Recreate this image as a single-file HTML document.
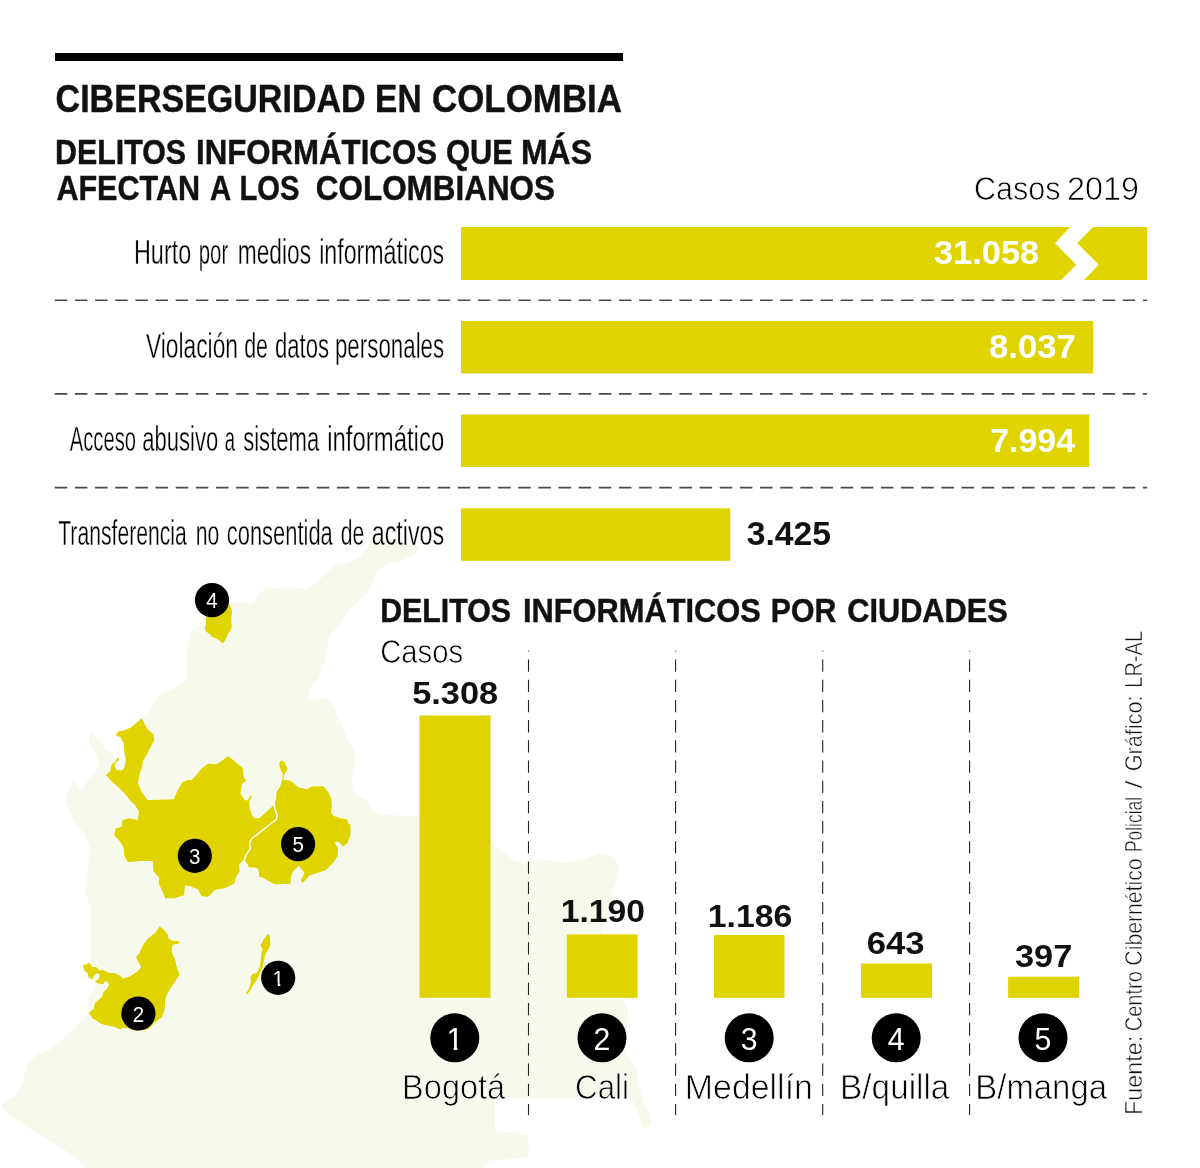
<!DOCTYPE html>
<html lang="es">
<head>
<meta charset="utf-8">
<title>Ciberseguridad en Colombia</title>
<style>
html,body{margin:0;padding:0;background:#fff;}
body{width:1200px;height:1168px;overflow:hidden;}
svg{display:block;font-family:"Liberation Sans", sans-serif;}
text{white-space:pre;}
.lt{stroke:#fff;stroke-width:0.75px;paint-order:fill stroke;}
.dg{stroke:#000;stroke-width:0.5px;paint-order:fill stroke;}
.dg2{stroke:#000;stroke-width:0.35px;paint-order:fill stroke;}
.lt2{stroke:#fff;stroke-width:0.5px;paint-order:fill stroke;}
.cn{stroke:#fff;stroke-width:0.35px;paint-order:fill stroke;}
</style>
</head>
<body>
<svg width="1200" height="1168" viewBox="0 0 1200 1168">
<polygon points="307.5,588.8 315,582.5 325,575 333,566.7 346.7,562.7 360,557.3 365.3,550.7 369.3,542.7 373.3,538.7 382.7,537.3 400,540 410,544 421.3,546.7 413.3,554.7 400,561.3 386.7,564 377.3,570.7 373.3,580 367.5,593.8 357.5,602.5 350,610 344,618 340,624.7 333,632 328.3,639 326.5,650 325.2,660 321,672 317.5,680 310,690 307.5,700 315,700 322.5,697.5 330,700 336.7,713.3 341.7,726.7 348.3,740 355,750 355,766.7 351.7,780 355,793.3 366.7,800 373.3,810 380,815 418.3,816 440,823 470,834 490.7,843.3 500,850 513.3,860 523.3,865 530,861.7 546.7,860 566.7,863.3 586.7,858.3 600,853.3 613.3,856.7 620,866.7 616.7,880 611.7,893.3 613.3,906.7 609,918 602,928 604,950 610,975 618,990 623.3,999.7 628.3,1011.3 626.7,1028 623.3,1044.7 626.7,1054.7 636.7,1068 638.3,1084.7 643.3,1101.3 650,1114.7 651.7,1124.7 643.3,1129.7 638.3,1114.7 633.3,1101.3 628.3,1098 495,1098 495,1131.3 513.3,1132.3 526.7,1134.7 530,1148 526.7,1158 513.3,1158.7 490,1160.7 483.3,1168 86.7,1168 76.7,1158 56.7,1144.7 33.3,1131.3 13.3,1118 1.7,1108 3.3,1101.3 16.7,1094.7 23.3,1081.3 26.7,1064.7 36.7,1054.7 50,1049.7 63.3,1039.7 75,1028 84.8,1016.9 88.6,1013 88,1000 95,985 85,970 88.6,965.5 91.2,955.2 89.9,939.8 91.2,919.3 89.9,903.8 84.8,893.6 87.3,878.2 88.6,862.7 89.9,847.3 84.8,834.5 77.1,824.2 69.4,811.4 65.5,798.5 64.1,806.1 68,792 73.4,779.4 79.5,790.7 82.6,788.6 87.7,780.4 93.9,772.2 98.5,766 98,759.9 94.9,751.6 89.8,743.4 88.8,735.2 90.8,731.1 96,736.2 101.1,743.4 106.2,749.6 111.4,751.6 113.4,755.8 115.5,760.9 117.5,757.8 119.1,758.3 118.6,760.9 116,761.9 114.5,766 116,769.6 121.6,770.7 124.2,768.1 125.8,759.9 124.2,751.6 123.7,743.4 120.6,737.3 115.5,735.2 118,731.6 123.7,730.6 130.9,727.5 141.7,718.3 145.3,715.7 149.4,711.6 152.5,704.4 158.6,696.2 167.9,691 175,687.5 185,682.5 187.5,670 186.3,657.5 188.5,643.2 190,634 195.4,627 203.1,623.2 206,612 214,603 229.3,603.1 241.7,602.4 249.4,603.9 255,602.5 258.8,593.8 265,588.8 277.5,587.5 292.5,587.5" fill="#f6f9ec"/>
<polygon points="141.7,718.3 144.2,722.9 147.3,729.0 153.5,734.2 154.5,740.3 150.4,747.5 146.3,755.8 143.2,760.9 142.2,767.1 139.6,774.2 138.1,782.5 141.2,790.7 147.3,799.9 173.9,799.3 177.3,790.8 182.5,782.2 188.5,779.6 191.0,780.5 196.2,775.3 201.3,768.5 208.2,763.4 216.7,764.2 225.3,758.2 227.8,755.7 232.1,759.1 237.3,763.4 242.4,767.6 243.0,769.5 243.7,777.0 246.4,780.4 242.3,783.8 240.3,793.4 245.1,800.3 247.8,800.3 250.5,795.5 251.9,796.8 249.2,801.6 249.9,808.5 251.9,815.3 254.0,818.1 259.5,818.1 267.0,811.2 273.8,805.1 276.6,811.2 277.9,816.7 277.3,820.1 277.8,820.3 272.3,824.4 265.4,829.8 258.59999999999997,835.3 253.1,839.4 251.1,843.5 251.7,849.6999999999999 249.0,853.0999999999999 245.6,860.0 245.0,859.2 242.4,861.0 239.0,864.4 239.8,871.2 235.5,878.1 234.7,883.2 230.4,885.8 223.6,888.4 215.0,890.1 209.9,895.2 206.4,896.9 201.3,896.1 197.9,889.2 192.7,887.5 189.3,885.8 185.0,885.8 184.2,895.2 173.9,898.6 165.3,898.6 161.1,888.4 158.5,883.2 159.3,878.1 153.4,871.2 152.5,861.0 141.4,861.0 127.7,862.3 124.2,855.8 123.4,847.3 119.1,840.4 114.0,835.3 115.7,828.4 121.7,826.7 122.5,819.9 129.4,818.2 137.9,819.9 138.8,811.3 134.5,804.5 130.9,801.5 124.7,793.8 117.5,786.6 111.4,781.4 105.7,775.1 110.3,771.2 111.4,765.0 115.5,760.9 117.5,757.8 119.1,758.3 118.6,760.9 116.0,761.9 114.5,766.0 116.0,769.6 121.6,770.7 124.2,768.1 125.8,759.9 124.2,751.6 123.7,743.4 120.6,737.3 115.5,735.2 118.0,731.6 123.7,730.6 130.9,727.5" fill="#dfd400" stroke="#fff" stroke-width="1.6" stroke-linejoin="round" paint-order="stroke"/>
<polygon points="281.4,760.3 284.8,762.6 287.5,768.8 285.5,772.9 284.1,774.9 283.4,779.7 290.3,780.4 294.4,783.8 298.5,787.3 306.7,789.3 311.5,786.6 323.2,785.9 325.9,789.3 328.6,792.7 331.4,798.9 332.1,807.1 330.7,812.6 334.1,816.0 339.6,818.1 347.1,819.2 348.5,823.6 350.5,824.9 350.5,834.5 347.8,842.7 343.0,846.8 339.6,842.7 336.8,841.4 334.8,842.7 338.2,848.2 337.5,856.4 332.7,863.3 325.9,870.1 317.7,872.9 309.5,875.6 302.6,883.2 300.5,880.4 304.7,872.9 298.5,866.0 293.0,871.5 291.0,877.0 290.3,884.5 284.8,883.8 275.2,884.5 268.4,881.1 261.5,877.0 259.5,877.7 258.1,868.8 254.7,867.4 249.2,867.4 245.1,860.5 244.4,859.2 247.8,852.3 250.5,848.9 249.9,842.7 251.9,838.6 257.4,834.5 264.2,829.0 271.1,823.6 276.6,819.5 277.3,814.7 275.2,809.9 274.5,804.4 275.9,798.9 276.6,792.1 280.0,786.6 282.1,779.7 282.7,774.2 280.7,770.1 279.3,766.0 279.6,761.9" fill="#dfd400" stroke="#fff" stroke-width="1.6" stroke-linejoin="round" paint-order="stroke"/>
<polygon points="159.6,926.1 164.6,930.6 167.9,934.5 168.5,938.4 172.4,940.6 179.1,941.2 179.6,943.4 173.5,944.5 171.8,947.3 172.4,954.0 175.2,959.5 176.8,967.3 179.6,974.5 175.7,980.7 170.2,988.5 166.8,995.1 165.2,1000.7 164.6,1009.6 161.8,1017.4 155.7,1021.8 147.9,1029.6 136.8,1030.7 123.4,1027.4 120.1,1029.6 114.5,1026.9 107.8,1025.7 101.2,1024.1 96.7,1020.7 92.3,1018.5 90.0,1014.6 88.4,1012.9 91.1,1010.7 93.9,1008.5 95.0,1002.9 98.9,999.6 102.3,996.2 103.4,991.8 107.3,988.5 109.0,984.0 106.7,981.2 104.5,981.8 103.4,984.6 96.7,982.9 95.0,981.2 98.9,978.4 99.5,975.1 96.7,972.9 93.9,976.2 92.3,979.6 88.4,977.3 87.8,973.4 84.5,970.6 83.1,966.2 83.9,964.5 86.7,964.5 88.4,962.6 91.1,964.5 91.7,966.8 96.7,967.3 99.5,970.6 103.4,970.1 109.0,972.9 114.5,972.9 119.0,975.1 123.4,978.4 130.1,976.2 136.8,971.8 141.2,967.3 139.0,962.9 136.8,959.5 136.2,956.7 139.6,952.8 142.3,946.2 146.8,939.5 152.4,935.0 156.3,931.7" fill="#dfd400" stroke="#fff" stroke-width="1.6" stroke-linejoin="round" paint-order="stroke"/>
<polygon points="268.2,934.3 269.7,935.4 270.1,940.0 270.5,943.9 269.3,947.7 267.4,950.8 265.5,953.9 264.7,957.0 264.3,960.1 263.5,963.2 263.1,966.2 261.2,970.1 259.3,975.5 256.2,980.9 253.1,985.5 250.4,990.1 248.1,993.6 246.2,994.6 245.8,993.2 248.5,989.4 250.0,985.5 250.8,980.9 250.4,977.0 252.0,974.3 254.7,973.6 257.0,972.4 259.3,967.8 260.4,963.2 260.8,958.5 261.2,953.9 262.4,949.3 260.8,946.2 260.4,944.3 262.4,942.4 263.1,940.0 265.5,937.0 267.0,934.6" fill="#dfd400" stroke="#fff" stroke-width="1.6" stroke-linejoin="round" paint-order="stroke"/>
<polygon points="223.2,599.3 229.3,604.7 231.3,608.5 232.0,613.2 231.3,617.8 231.6,623.9 231.6,627.8 230.1,630.9 227.8,634.0 226.2,638.6 223.9,642.4 222.0,643.6 220.1,640.9 216.2,638.6 211.6,637.1 210.1,634.7 206.2,631.7 204.7,628.6 205.8,623.9 205.8,617.8 207.0,616.2 210.8,608.5" fill="#dfd400" stroke="#fff" stroke-width="1.6" stroke-linejoin="round" paint-order="stroke"/>
<polyline points="274.5,804.4 275.2,809.9 277.3,814.7 276.6,819.5 271.1,823.6 264.2,829.0 257.4,834.5 251.9,838.6 249.9,842.7 250.5,848.9 247.8,852.3 244.4,859.2" fill="none" stroke="#fff" stroke-width="1.1"/>
<rect x="55" y="53" width="568" height="8" fill="#000"/>
<text y="111.7" font-size="38.6" font-weight="bold" fill="#111" stroke="#111" stroke-width="0.45"><tspan x="55.6" textLength="310.01" lengthAdjust="spacingAndGlyphs">CIBERSEGURIDAD</tspan> <tspan x="375.09" textLength="46.45" lengthAdjust="spacingAndGlyphs">EN</tspan> <tspan x="431.99" textLength="190.01" lengthAdjust="spacingAndGlyphs">COLOMBIA</tspan></text>
<text y="164" font-size="35.2" font-weight="bold" fill="#111" stroke="#111" stroke-width="0.45"><tspan x="54.97" textLength="131.06" lengthAdjust="spacingAndGlyphs">DELITOS</tspan> <tspan x="195.98" textLength="241.03" lengthAdjust="spacingAndGlyphs">INFORMÁTICOS</tspan> <tspan x="445.98" textLength="67.04" lengthAdjust="spacingAndGlyphs">QUE</tspan> <tspan x="520.94" textLength="71.1" lengthAdjust="spacingAndGlyphs">MÁS</tspan></text>
<text y="200" font-size="35.2" font-weight="bold" fill="#111" stroke="#111" stroke-width="0.45"><tspan x="56.4" textLength="143.64" lengthAdjust="spacingAndGlyphs">AFECTAN</tspan> <tspan x="210.0" textLength="20.05" lengthAdjust="spacingAndGlyphs">A</tspan> <tspan x="239.51" textLength="60.13" lengthAdjust="spacingAndGlyphs">LOS</tspan> <tspan x="315.79" textLength="239.22" lengthAdjust="spacingAndGlyphs">COLOMBIANOS</tspan></text>
<text y="200" font-size="33.7" fill="#000" class="lt"><tspan x="973.93" textLength="86.53" lengthAdjust="spacingAndGlyphs">Casos</tspan> <tspan x="1067.11" textLength="71.98" lengthAdjust="spacingAndGlyphs">2019</tspan></text>
<polygon points="461,227 1070,227 1055,243.2 1076.3,264.7 1061,280 461,280" fill="#dfd400"/>
<polygon points="1093,227 1147,227 1147,280 1084,280 1098.8,264.7 1077.2,243.2" fill="#dfd400"/>
<rect x="461" y="321" width="632" height="52.5" fill="#dfd400"/>
<rect x="461" y="414.5" width="628.3" height="52.5" fill="#dfd400"/>
<rect x="461" y="508.3" width="269.3" height="52.5" fill="#dfd400"/>
<line x1="54.8" y1="300.2" x2="1147" y2="300.2" stroke="#4a4a4a" stroke-width="1.6" stroke-dasharray="12.5 7.65"/>
<line x1="54.8" y1="393.9" x2="1147" y2="393.9" stroke="#4a4a4a" stroke-width="1.6" stroke-dasharray="12.5 7.65"/>
<line x1="54.8" y1="487.6" x2="1147" y2="487.6" stroke="#4a4a4a" stroke-width="1.6" stroke-dasharray="12.5 7.65"/>
<text y="263.9" font-size="35" fill="#000" class="cn"><tspan x="133.94" textLength="57.29" lengthAdjust="spacingAndGlyphs">Hurto</tspan> <tspan x="198.75" textLength="29.46" lengthAdjust="spacingAndGlyphs">por</tspan> <tspan x="237.76" textLength="73.27" lengthAdjust="spacingAndGlyphs">medios</tspan> <tspan x="319.17" textLength="125.04" lengthAdjust="spacingAndGlyphs">informáticos</tspan></text>
<text y="357.7" font-size="35" fill="#000" class="cn"><tspan x="145.98" textLength="92.06" lengthAdjust="spacingAndGlyphs">Violación</tspan> <tspan x="244.19" textLength="23.85" lengthAdjust="spacingAndGlyphs">de</tspan> <tspan x="274.96" textLength="54.08" lengthAdjust="spacingAndGlyphs">datos</tspan> <tspan x="334.96" textLength="109.25" lengthAdjust="spacingAndGlyphs">personales</tspan></text>
<text y="451.4" font-size="35" fill="#000" class="cn"><tspan x="69.8" textLength="66.21" lengthAdjust="spacingAndGlyphs">Acceso</tspan> <tspan x="142.17" textLength="76.07" lengthAdjust="spacingAndGlyphs">abusivo</tspan> <tspan x="224.74" textLength="10.26" lengthAdjust="spacingAndGlyphs">a</tspan> <tspan x="243.19" textLength="76.01" lengthAdjust="spacingAndGlyphs">sistema</tspan> <tspan x="327.17" textLength="117.04" lengthAdjust="spacingAndGlyphs">informático</tspan></text>
<text y="545.2" font-size="35" fill="#000" class="cn"><tspan x="58.2" textLength="128.6" lengthAdjust="spacingAndGlyphs">Transferencia</tspan> <tspan x="195.68" textLength="23.56" lengthAdjust="spacingAndGlyphs">no</tspan> <tspan x="226.79" textLength="106.01" lengthAdjust="spacingAndGlyphs">consentida</tspan> <tspan x="340.75" textLength="23.5" lengthAdjust="spacingAndGlyphs">de</tspan> <tspan x="371.78" textLength="72.43" lengthAdjust="spacingAndGlyphs">activos</tspan></text>
<text y="263.7" font-size="32.4" font-weight="bold" fill="#fff"><tspan x="933.98" textLength="105.25" lengthAdjust="spacingAndGlyphs">31.058</tspan></text>
<text y="357.7" font-size="32.4" font-weight="bold" fill="#fff"><tspan x="988.94" textLength="86.91" lengthAdjust="spacingAndGlyphs">8.037</tspan></text>
<text y="451.5" font-size="32.4" font-weight="bold" fill="#fff"><tspan x="990.17" textLength="84.83" lengthAdjust="spacingAndGlyphs">7.994</tspan></text>
<text y="545" font-size="32.4" font-weight="bold" fill="#111"><tspan x="746.78" textLength="84.23" lengthAdjust="spacingAndGlyphs">3.425</tspan></text>
<text y="621.8" font-size="34" font-weight="bold" fill="#111" stroke="#111" stroke-width="0.45"><tspan x="380.18" textLength="130.83" lengthAdjust="spacingAndGlyphs">DELITOS</tspan> <tspan x="522.98" textLength="237.83" lengthAdjust="spacingAndGlyphs">INFORMÁTICOS</tspan> <tspan x="770.76" textLength="65.45" lengthAdjust="spacingAndGlyphs">POR</tspan> <tspan x="847.19" textLength="160.61" lengthAdjust="spacingAndGlyphs">CIUDADES</tspan></text>
<text y="662.8" font-size="34" fill="#000" class="lt"><tspan x="380.15" textLength="82.88" lengthAdjust="spacingAndGlyphs">Casos</tspan></text>
<line x1="528.5" y1="650.8" x2="528.5" y2="1115" stroke="#222" stroke-width="1.1" stroke-dasharray="12.3 7.9" stroke-dashoffset="11.5"/>
<line x1="675.6" y1="650.8" x2="675.6" y2="1115" stroke="#222" stroke-width="1.1" stroke-dasharray="12.3 7.9" stroke-dashoffset="11.5"/>
<line x1="822.7" y1="650.8" x2="822.7" y2="1115" stroke="#222" stroke-width="1.1" stroke-dasharray="12.3 7.9" stroke-dashoffset="11.5"/>
<line x1="969.6" y1="650.8" x2="969.6" y2="1115" stroke="#222" stroke-width="1.1" stroke-dasharray="12.3 7.9" stroke-dashoffset="11.5"/>
<rect x="419.5" y="715.5" width="71" height="282.3" fill="#dfd400"/>
<rect x="566.9" y="934.4" width="70.6" height="63.4" fill="#dfd400"/>
<rect x="714" y="934.9" width="70.5" height="62.9" fill="#dfd400"/>
<rect x="861" y="963.5" width="71" height="34.3" fill="#dfd400"/>
<rect x="1008.1" y="976.7" width="71" height="21.1" fill="#dfd400"/>
<text y="704" font-size="31.6" font-weight="bold" fill="#111"><tspan x="412.17" textLength="86.07" lengthAdjust="spacingAndGlyphs">5.308</tspan></text>
<text y="922.4" font-size="31.6" font-weight="bold" fill="#111"><tspan x="560.71" textLength="84.33" lengthAdjust="spacingAndGlyphs">1.190</tspan></text>
<text y="926.5" font-size="31.6" font-weight="bold" fill="#111"><tspan x="707.71" textLength="84.55" lengthAdjust="spacingAndGlyphs">1.186</tspan></text>
<text y="953.5" font-size="31.6" font-weight="bold" fill="#111"><tspan x="866.74" textLength="57.93" lengthAdjust="spacingAndGlyphs">643</tspan></text>
<text y="966.7" font-size="31.6" font-weight="bold" fill="#111"><tspan x="1014.97" textLength="57.27" lengthAdjust="spacingAndGlyphs">397</tspan></text>
<circle cx="454.8" cy="1037.8" r="24.5" fill="#000"/>
<text x="454.8" y="1050" font-size="31.6" text-anchor="middle" fill="#fff" textLength="16.8" lengthAdjust="spacingAndGlyphs">1</text>
<rect x="447.5" y="1046.5" width="6.2" height="4.5" fill="#000"/><rect x="457.3" y="1046.5" width="6.2" height="4.5" fill="#000"/>
<circle cx="602" cy="1037.8" r="24.5" fill="#000"/>
<text x="602" y="1050" font-size="31.6" text-anchor="middle" fill="#fff" textLength="16.8" lengthAdjust="spacingAndGlyphs">2</text>
<circle cx="749.2" cy="1037.8" r="24.5" fill="#000"/>
<text x="749.2" y="1050" font-size="31.6" text-anchor="middle" fill="#fff" textLength="16.8" lengthAdjust="spacingAndGlyphs">3</text>
<circle cx="896.2" cy="1037.8" r="24.5" fill="#000"/>
<text x="896.2" y="1050" font-size="31.6" text-anchor="middle" fill="#fff" textLength="16.8" lengthAdjust="spacingAndGlyphs">4</text>
<circle cx="1043" cy="1037.8" r="24.5" fill="#000"/>
<text x="1043" y="1050" font-size="31.6" text-anchor="middle" fill="#fff" textLength="16.8" lengthAdjust="spacingAndGlyphs">5</text>
<text y="1099.4" font-size="34.4" fill="#000" class="lt"><tspan x="402.12" textLength="103.09" lengthAdjust="spacingAndGlyphs">Bogotá</tspan></text>
<text y="1099.4" font-size="34.4" fill="#000" class="lt"><tspan x="575.03" textLength="54.02" lengthAdjust="spacingAndGlyphs">Cali</tspan></text>
<text y="1099.4" font-size="34.4" fill="#000" class="lt"><tspan x="684.87" textLength="128.05" lengthAdjust="spacingAndGlyphs">Medellín</tspan></text>
<text y="1099.4" font-size="34.4" fill="#000" class="lt"><tspan x="840.11" textLength="109.3" lengthAdjust="spacingAndGlyphs">B/quilla</tspan></text>
<text y="1099.4" font-size="34.4" fill="#000" class="lt"><tspan x="975.34" textLength="131.66" lengthAdjust="spacingAndGlyphs">B/manga</tspan></text>
<text transform="translate(1142.2,1113) rotate(-90)" y="0" font-size="24.1" fill="#111" class="lt2"><tspan x="-2.12" textLength="79.44" lengthAdjust="spacingAndGlyphs">Fuente:</tspan> <tspan x="81.72" textLength="60.12" lengthAdjust="spacingAndGlyphs">Centro</tspan> <tspan x="147.37" textLength="107.28" lengthAdjust="spacingAndGlyphs">Cibernético</tspan> <tspan x="260.91" textLength="55.19" lengthAdjust="spacingAndGlyphs">Policial</tspan> <tspan x="324.5" textLength="8.0" lengthAdjust="spacingAndGlyphs">/</tspan> <tspan x="341.7" textLength="75.81" lengthAdjust="spacingAndGlyphs">Gráfico:</tspan> <tspan x="425.3" textLength="56.75" lengthAdjust="spacingAndGlyphs">LR-AL</tspan></text>
<circle cx="212" cy="600.1" r="17.1" fill="#000"/>
<text x="212" y="608.2" font-size="21.8" text-anchor="middle" fill="#fff" textLength="11.4" lengthAdjust="spacingAndGlyphs">4</text>
<circle cx="194.8" cy="855.8" r="17.1" fill="#000"/>
<text x="194.8" y="863.9" font-size="21.8" text-anchor="middle" fill="#fff" textLength="11.4" lengthAdjust="spacingAndGlyphs">3</text>
<circle cx="298.1" cy="844.1" r="17.1" fill="#000"/>
<text x="298.1" y="852.2" font-size="21.8" text-anchor="middle" fill="#fff" textLength="11.4" lengthAdjust="spacingAndGlyphs">5</text>
<circle cx="278.2" cy="977.8" r="17.1" fill="#000"/>
<text x="278.2" y="985.9" font-size="21.8" text-anchor="middle" fill="#fff" textLength="11.4" lengthAdjust="spacingAndGlyphs">1</text>
<circle cx="138.4" cy="1013.5" r="17.1" fill="#000"/>
<text x="138.4" y="1021.6" font-size="21.8" text-anchor="middle" fill="#fff" textLength="11.4" lengthAdjust="spacingAndGlyphs">2</text>
<rect x="272.5" y="982.4" width="5.2" height="3.6" fill="#000"/><rect x="280.3" y="982.4" width="4.6" height="3.6" fill="#000"/>
</svg>
</body>
</html>
